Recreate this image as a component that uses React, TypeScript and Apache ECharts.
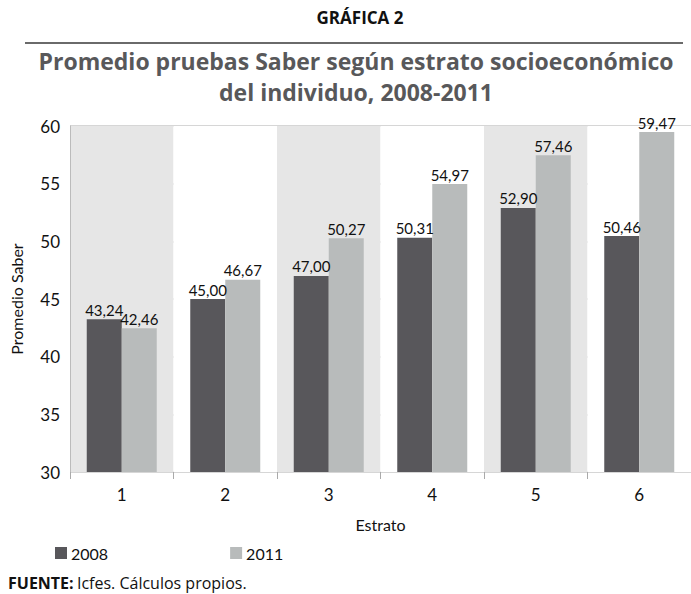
import React, { useEffect, useRef } from "react";
import * as echarts from "echarts";

const categories = ["1", "2", "3", "4", "5", "6"];
const values2008 = [43.24, 45.0, 47.0, 50.31, 52.9, 50.46];
const values2011 = [42.46, 46.67, 50.27, 54.97, 57.46, 59.47];
const seriesNames = ["2008", "2011"];

const FONT = "Lato, 'Open Sans', sans-serif";
const WIDE = "'Open Sans', Lato, sans-serif";

export default function App() {
  const ref = useRef<HTMLDivElement>(null);
  useEffect(() => {
    if (!ref.current) return;
    const chart = echarts.init(ref.current, null, { renderer: "svg" });
    const fmt = (p: any) => Number(p.value).toFixed(2).replace(".", ",");
    chart.setOption({
      animation: false,
      backgroundColor: "#ffffff",
      textStyle: { fontFamily: FONT },
      grid: { left: 68, top: 126, width: 630, height: 346 },
      legend: {
        left: 50,
        top: 540,
        itemWidth: 12,
        itemHeight: 12,
        itemGap: 122,
        icon: "rect",
        textStyle: { fontFamily: FONT, fontSize: 16, color: "#111", padding: [0, 0, 0, -1] },
        data: seriesNames,
      },
      graphic: [
        {
          type: "text",
          x: 360,
          y: 9,
          style: { text: "GRÁFICA 2", font: `bold 17px ${WIDE}`, fill: "#111", align: "center" },
        },
        {
          type: "line",
          shape: { x1: 25, y1: 43, x2: 683, y2: 43 },
          style: { stroke: "#6a6a6a", lineWidth: 2 },
        },
        {
          type: "text",
          x: 356,
          y: 45,
          style: {
            text: "Promedio pruebas Saber según estrato socioeconómico\ndel individuo, 2008-2011",
            font: `bold 23px ${WIDE}`,
            fill: "#58585a",
            align: "center",
            lineHeight: 31,
          },
        },
        {
          type: "text",
          x: 8,
          y: 575,
          style: {
            rich: {
              b: { fontFamily: WIDE, fontWeight: "bold", fontSize: 16, fill: "#111" },
              n: { fontFamily: WIDE, fontSize: 16, fill: "#111" },
            },
            text: "{b|FUENTE:} {n|Icfes. Cálculos propios.}",
          },
        },
      ],
      xAxis: {
        type: "category",
        data: categories,
        name: "Estrato",
        nameLocation: "middle",
        nameGap: 44,
        nameTextStyle: { fontFamily: FONT, fontSize: 16, color: "#111" },
        axisLine: { show: false },
        axisTick: { show: true, length: 7, lineStyle: { color: "#aaaaaa" } },
        axisLabel: { fontFamily: FONT, fontSize: 17, color: "#111", margin: 14 },
        splitArea: { show: true, areaStyle: { color: ["#e6e6e6", "#ffffff"] } },
      },
      yAxis: {
        type: "value",
        min: 30,
        max: 60,
        interval: 5,
        name: "Promedio Saber",
        nameLocation: "middle",
        nameGap: 46,
        nameTextStyle: { fontFamily: FONT, fontSize: 16, color: "#111" },
        axisLine: { show: true, lineStyle: { color: "#bbbbbb", width: 1 } },
        axisTick: { show: false },
        axisLabel: { fontFamily: FONT, fontSize: 17, color: "#111", margin: 10 },
        splitLine: { show: true, lineStyle: { color: "#c8c8c8", width: 1.5 } },
      },
      series: [
        {
          name: seriesNames[0],
          type: "bar",
          data: values2008,
          barWidth: 35,
          barGap: "0%",
          itemStyle: { color: "#58575b" },
          label: { show: true, position: "top", distance: 2, formatter: fmt, fontFamily: FONT, fontSize: 15, color: "#111" },
        },
        {
          name: seriesNames[1],
          type: "bar",
          data: values2011,
          barWidth: 35,
          barGap: "0%",
          itemStyle: { color: "#b8bbbb" },
          label: { show: true, position: "top", distance: 2, formatter: fmt, fontFamily: FONT, fontSize: 15, color: "#111" },
        },
      ],
    });
    return () => chart.dispose();
  }, []);
  return <div ref={ref} style={{ width: 691, height: 594, position: "absolute", left: 0, top: 0 }} />;
}
